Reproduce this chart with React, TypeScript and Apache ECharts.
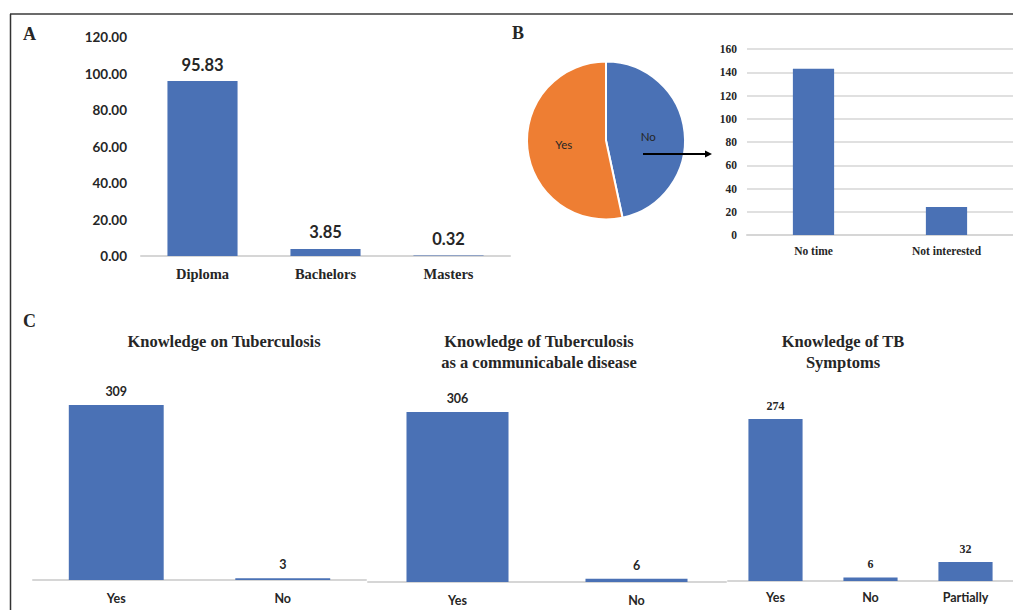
import React, { useEffect, useRef } from "react";
import * as echarts from "echarts";

const eduCategories = ["Diploma", "Bachelors", "Masters"];
const eduValues = [95.83, 3.85, 0.32];

const pieCategories = ["No", "Yes"];
const pieValues = [167, 191];

const reasonCategories = ["No time", "Not interested"];
const reasonValues = [143, 24];

const c1Title = "Knowledge on Tuberculosis";
const c1Categories = ["Yes", "No"];
const c1Values = [309, 3];

const c2Title = "Knowledge of Tuberculosis\nas a communicabale disease";
const c2Categories = ["Yes", "No"];
const c2Values = [306, 6];

const c3Title = "Knowledge of TB\nSymptoms";
const c3Categories = ["Yes", "No", "Partially"];
const c3Values = [274, 6, 32];

const BLUE = "#4a71b5";
const ORANGE = "#ee7e33";
const TEXT = "#262626";
const AXIS = "#d6d6d6";
const SANS = "Lato, 'Open Sans', sans-serif";
const SERIF = "'Liberation Serif', 'DejaVu Serif', serif";

export default function App() {
  const ref = useRef<HTMLDivElement>(null);
  useEffect(() => {
    if (!ref.current) return;
    const chart = echarts.init(ref.current, undefined, { renderer: "svg" });

    const hiddenY = (gi: number) => ({
      type: "value",
      gridIndex: gi,
      min: 0,
      max: (v: any) => v.max,
      show: false,
    });
    const catX = (gi: number, data: string[], font: any, margin: number) => ({
      type: "category",
      gridIndex: gi,
      data,
      axisLine: { show: true, lineStyle: { color: AXIS, width: 2 } },
      axisTick: { show: false },
      axisLabel: { margin, ...font },
    });
    const sansLabel = { fontFamily: SANS, fontWeight: "bold", fontSize: 12.5, color: TEXT };
    const serifLabel = { fontFamily: SERIF, fontWeight: "bold", fontSize: 12, color: TEXT };

    const option: any = {
      animation: false,
      grid: [
        { left: 141, top: 37, width: 369, height: 219 },
        { left: 747, top: 49, width: 268, height: 186 },
        { left: 33, top: 405, width: 333, height: 175 },
        { left: 368, top: 412, width: 358, height: 170 },
        { left: 728, top: 419, width: 288, height: 162 },
      ],
      xAxis: [
        catX(0, eduCategories, { fontFamily: SERIF, fontWeight: "bold", fontSize: 14.5, color: TEXT }, 10),
        catX(1, reasonCategories, { fontFamily: SERIF, fontWeight: "bold", fontSize: 11.5, color: TEXT }, 10),
        catX(2, c1Categories, sansLabel, 12),
        catX(3, c2Categories, sansLabel, 12),
        catX(4, c3Categories, sansLabel, 10),
      ],
      yAxis: [
        {
          type: "value",
          gridIndex: 0,
          min: 0,
          max: 120,
          interval: 20,
          axisLine: { show: false },
          axisTick: { show: false },
          splitLine: { show: false },
          axisLabel: {
            margin: 14,
            fontFamily: SANS,
            fontWeight: "bold",
            fontSize: 13.5,
            color: TEXT,
            formatter: (v: number) => v.toFixed(2),
          },
        },
        {
          type: "value",
          gridIndex: 1,
          min: 0,
          max: 160,
          interval: 20,
          axisLine: { show: false },
          axisTick: { show: false },
          splitLine: { show: true, lineStyle: { color: AXIS, width: 1.5 } },
          axisLabel: { margin: 10, fontFamily: SERIF, fontWeight: "bold", fontSize: 11.5, color: TEXT },
        },
        hiddenY(2),
        hiddenY(3),
        hiddenY(4),
      ],
      series: [
        {
          type: "bar",
          xAxisIndex: 0,
          yAxisIndex: 0,
          data: eduValues,
          barWidth: "57%",
          itemStyle: { color: BLUE },
          label: {
            show: true,
            position: "top",
            distance: 8,
            fontFamily: SANS,
            fontWeight: "bold",
            fontSize: 16.5,
            color: TEXT,
            formatter: (p: any) => p.value.toFixed(2),
          },
        },
        {
          type: "bar",
          xAxisIndex: 1,
          yAxisIndex: 1,
          data: reasonValues,
          barWidth: "31%",
          itemStyle: { color: BLUE },
        },
        {
          type: "bar",
          xAxisIndex: 2,
          yAxisIndex: 2,
          data: c1Values,
          barWidth: "57%",
          itemStyle: { color: BLUE },
          label: { show: true, position: "top", distance: 7, ...sansLabel },
        },
        {
          type: "bar",
          xAxisIndex: 3,
          yAxisIndex: 3,
          data: c2Values,
          barWidth: "57%",
          itemStyle: { color: BLUE },
          label: { show: true, position: "top", distance: 7, ...sansLabel },
        },
        {
          type: "bar",
          xAxisIndex: 4,
          yAxisIndex: 4,
          data: c3Values,
          barWidth: "57%",
          itemStyle: { color: BLUE },
          label: { show: true, position: "top", distance: 7, ...serifLabel },
        },
        {
          type: "pie",
          center: [606, 140.5],
          radius: [0, 79],
          startAngle: 90,
          clockwise: true,
          data: pieCategories.map((n, i) => ({
            name: n,
            value: pieValues[i],
            itemStyle: { color: i === 0 ? BLUE : ORANGE },
          })),
          itemStyle: { borderColor: "#fff", borderWidth: 2 },
          label: {
            show: true,
            position: "inside",
            formatter: "{b}",
            fontFamily: SANS,
            fontSize: 11.5,
            color: TEXT,
          },
          labelLine: { show: false },
          emphasis: { disabled: true },
        },
      ],
      graphic: [
        { type: "line", shape: { x1: 10, y1: 14, x2: 1013, y2: 14 }, style: { stroke: "#6b6b6b", lineWidth: 2 } },
        { type: "line", shape: { x1: 10.5, y1: 14, x2: 10.5, y2: 610 }, style: { stroke: "#333", lineWidth: 1.5 } },
        { type: "line", shape: { x1: 500, y1: 256, x2: 508, y2: 256 }, style: { stroke: "#cfcfcf", lineWidth: 1.5 } },
        { type: "line", z: 100, shape: { x1: 643, y1: 154, x2: 707, y2: 154 }, style: { stroke: "#000", lineWidth: 2 } },
        { type: "polygon", z: 100, shape: { points: [[712, 154], [705, 150.5], [705, 157.5]] }, style: { fill: "#000" } },
        { type: "text", x: 23, y: 34, style: { text: "A", font: `bold 18px ${SERIF}`, fill: TEXT, verticalAlign: "middle" } },
        { type: "text", x: 512, y: 33, style: { text: "B", font: `bold 18px ${SERIF}`, fill: TEXT, verticalAlign: "middle" } },
        { type: "text", x: 23, y: 321, style: { text: "C", font: `bold 18px ${SERIF}`, fill: TEXT, verticalAlign: "middle" } },
        { type: "text", x: 224, y: 341, style: { text: c1Title, font: `bold 16.5px ${SERIF}`, fill: TEXT, align: "center", verticalAlign: "middle" } },
        { type: "text", x: 539, y: 351.5, style: { text: c2Title, font: `bold 16.5px ${SERIF}`, fill: TEXT, align: "center", verticalAlign: "middle", lineHeight: 21 } },
        { type: "text", x: 843, y: 351.5, style: { text: c3Title, font: `bold 16.5px ${SERIF}`, fill: TEXT, align: "center", verticalAlign: "middle", lineHeight: 21 } },
      ],
    };
    chart.setOption(option);
    return () => chart.dispose();
  }, []);
  return (
    <div
      ref={ref}
      style={{ position: "fixed", left: 0, top: 0, width: 1013, height: 610, background: "#fff" }}
    />
  );
}
